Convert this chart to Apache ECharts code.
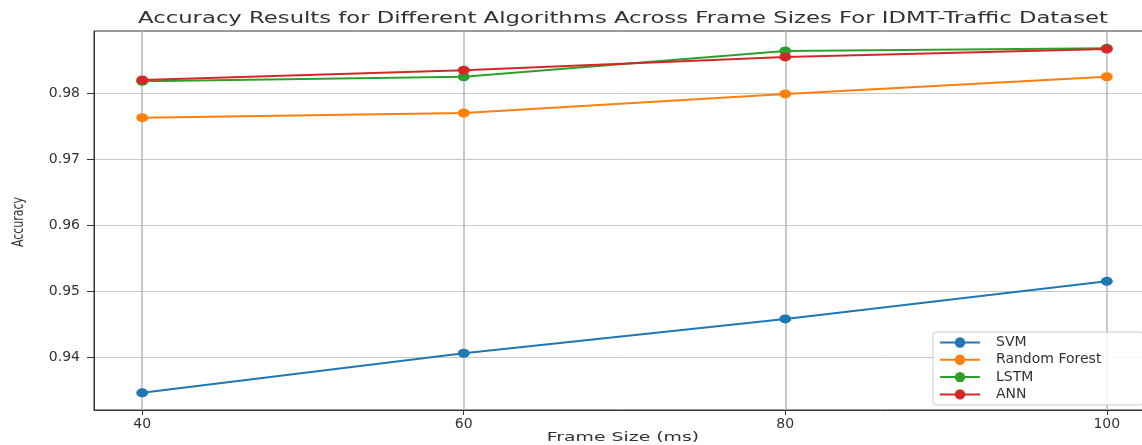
<!DOCTYPE html>
<html>
<head>
<meta charset="utf-8">
<script src="https://cdn.jsdelivr.net/npm/echarts@6/dist/echarts.min.js"></script>
<style>html,body{margin:0;padding:0;background:#fff}#c{width:1142px;height:445px}</style>
</head>
<body>
<div id="c"></div>
<script>
const frameSizes = [40, 60, 80, 100];
const xTicks = [40, 60, 80, 100];
const yTicks = [0.94, 0.95, 0.96, 0.97, 0.98];
const svm = [0.9346, 0.9406, 0.9458, 0.9515];
const randomForest = [0.9763, 0.9770, 0.9799, 0.9825];
const lstm = [0.9818, 0.9825, 0.9864, 0.9868];
const ann = [0.9820, 0.9835, 0.9855, 0.9867];
const seriesNames = ['SVM', 'Random Forest', 'LSTM', 'ANN'];
const seriesValues = [svm, randomForest, lstm, ann];
const colors = ['#1f77b4', '#ff7f0e', '#2ca02c', '#d62728'];
const titleText = 'Accuracy Results for Different Algorithms Across Frame Sizes For IDMT-Traffic Dataset';
const xName = 'Frame Size (ms)';
const yName = 'Accuracy';

const font = 'DejaVu Sans';
const chart = echarts.init(document.getElementById('c'), null, {renderer: 'canvas'});
chart.setOption({
  animation: false,
  backgroundColor: '#fff',
  graphic: [
    {type: 'text', x: 623, y: 19, scaleX: 1.515,
     style: {text: titleText, textAlign: 'center', textVerticalAlign: 'middle',
             font: '15px "DejaVu Sans"', fill: '#333'}},
    {type: 'text', x: 623, y: 438, scaleX: 1.45,
     style: {text: xName, textAlign: 'center', textVerticalAlign: 'middle',
             font: '13px "DejaVu Sans"', fill: '#333'}},
    {type: 'text', x: 19, y: 222, rotation: Math.PI / 2, scaleY: 1.4,
     style: {text: yName, textAlign: 'center', textVerticalAlign: 'middle',
             font: '11px "DejaVu Sans"', fill: '#333'}}
  ],
  grid: {left: 94, right: -13, top: 31, bottom: 35, show: true, borderColor: '#333', borderWidth: 1,
         containLabel: false, outerBoundsMode: 'none'},
  legend: {
    orient: 'vertical', left: 933, top: 332,
    itemWidth: 40, itemHeight: 13, itemGap: 0.3,
    backgroundColor: 'rgba(255,255,255,0.85)', borderColor: '#ccc', borderWidth: 1, borderRadius: 3,
    padding: [2, 6, 2, 6],
    textStyle: {fontFamily: font, fontSize: 14, color: '#333', padding: [0, 0, 0, 11], width: 141, lineHeight: 17},
    data: seriesNames
  },
  xAxis: {
    type: 'value', min: 37, max: 103,
    axisLine: {show: true, onZero: false, lineStyle: {color: '#333'}},
    axisTick: {show: true, length: 5, customValues: xTicks, lineStyle: {color: '#333'}},
    axisLabel: {customValues: xTicks, fontFamily: font, fontSize: 14, color: '#333', margin: 7},
    splitLine: {show: true, lineStyle: {color: '#b8b8b8', width: 1.5}}
  },
  yAxis: {
    type: 'value', min: 0.932, max: 0.98943,
    axisLine: {show: true, lineStyle: {color: '#333'}},
    axisTick: {show: true, length: 7, customValues: yTicks, lineStyle: {color: '#333'}},
    axisLabel: {customValues: yTicks, fontFamily: font, fontSize: 14, color: '#333', margin: 14,
      formatter: v => v.toFixed(2)},
    splitLine: {show: true, lineStyle: {color: '#c8c8c8', width: 1}}
  },
  series: seriesNames.map((n, i) => ({
    name: n, type: 'line',
    data: frameSizes.map((x, j) => [x, seriesValues[i][j]]),
    symbol: 'circle', symbolSize: [12, 9],
    itemStyle: {color: colors[i]},
    lineStyle: {color: colors[i], width: 2},
    emphasis: {disabled: true}
  }))
});
</script>
</body>
</html>
